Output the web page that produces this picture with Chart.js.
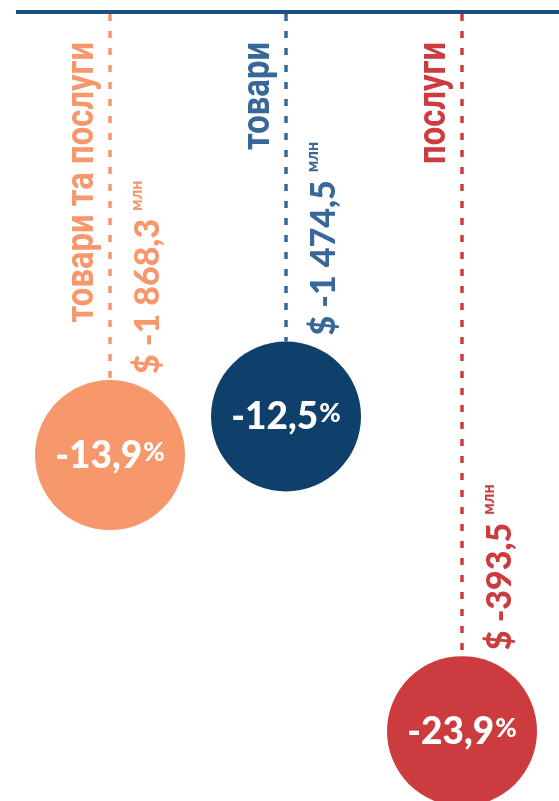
<!DOCTYPE html>
<html>
<head>
<meta charset="utf-8">
<script src="https://cdn.jsdelivr.net/npm/chart.js@4/dist/chart.umd.min.js"></script>
<style>
  html, body { margin: 0; padding: 0; background: #ffffff; }
  #wrap { width: 559px; height: 801px; }
</style>
</head>
<body>
<div id="wrap"><canvas id="c" width="559" height="801"></canvas></div>
<script>
// ---- data ----
const categories = ['товари та послуги', 'товари', 'послуги'];
const changePct = [-13.9, -12.5, -23.9];        // % change
const amountsMln = [-1868.3, -1474.5, -393.5];  // $ млн
const unitLabel = 'млн';

// ---- styles ----
const circleColors = ['#F6976C', '#0F3F6B', '#CC3C3F'];
const textColors = ['#F6976C', '#386898', '#CC3C3F'];
const topLineColor = '#1B4E80';
const RADIUS = 75;

function fmtPct(v) {
  return v.toFixed(1).replace('.', ',');
}
function fmtAmount(v) {
  const sign = v < 0 ? '-' : '';
  const abs = Math.abs(v).toFixed(1).split('.');
  const intPart = abs[0].replace(/\B(?=(\d{3})+(?!\d))/g, ' ');
  return '$ ' + sign + intPart + ',' + abs[1];
}

const CAT_FONT = 'bold 38px Roboto, "DejaVu Sans", sans-serif';
const CAT_CONDENSE = 0.865;
const VAL_FONT = '900 34px Lato, "Open Sans", sans-serif';
const UNIT_FONT = '900 16px Lato, "Open Sans", sans-serif';
const PCT_FONT = '900 37px Lato, "Open Sans", sans-serif';
const PCT_SIGN_FONT = '900 26px Lato, "Open Sans", sans-serif';

const decor = {
  id: 'decor',
  beforeDatasetsDraw(chart) {
    const ctx = chart.ctx;
    const area = chart.chartArea;
    const xs = chart.scales.x, ys = chart.scales.y;
    ctx.save();
    // top line
    ctx.strokeStyle = topLineColor;
    ctx.lineWidth = 4;
    ctx.beginPath();
    ctx.moveTo(16, area.top);
    ctx.lineTo(chart.width, area.top);
    ctx.stroke();

    categories.forEach((cat, i) => {
      const x = xs.getPixelForValue(i);
      const y = ys.getPixelForValue(changePct[i]);
      const circleTop = y - RADIUS;
      // dashed line
      ctx.save();
      ctx.strokeStyle = textColors[i];
      ctx.lineWidth = 3.5;
      ctx.setLineDash([7, 10]);
      ctx.beginPath();
      ctx.moveTo(x, area.top + 2);
      ctx.lineTo(x, circleTop);
      ctx.stroke();
      ctx.restore();

      // category label (rotated)
      ctx.save();
      ctx.fillStyle = textColors[i];
      ctx.translate(x - 17, 42);
      ctx.rotate(-Math.PI / 2);
      ctx.scale(CAT_CONDENSE, 1);
      ctx.font = CAT_FONT;
      ctx.textAlign = 'right';
      ctx.textBaseline = 'alphabetic';
      ctx.fillText(cat, 0, 0);
      ctx.restore();

      // value label (rotated)
      ctx.save();
      ctx.fillStyle = textColors[i];
      ctx.translate(x + 49, circleTop - 6);
      ctx.rotate(-Math.PI / 2);
      ctx.font = VAL_FONT;
      ctx.textAlign = 'left';
      ctx.textBaseline = 'alphabetic';
      const s = fmtAmount(amountsMln[i]);
      ctx.fillText(s, 0, 0);
      const w = ctx.measureText(s).width;
      ctx.font = UNIT_FONT;
      ctx.fillText(unitLabel, w + 8, -17);
      ctx.restore();
    });
    ctx.restore();
  },
  afterDatasetsDraw(chart) {
    const ctx = chart.ctx;
    const xs = chart.scales.x, ys = chart.scales.y;
    ctx.save();
    ctx.fillStyle = '#ffffff';
    ctx.textAlign = 'left';
    ctx.textBaseline = 'alphabetic';
    categories.forEach((cat, i) => {
      const cx = xs.getPixelForValue(i);
      const cy = ys.getPixelForValue(changePct[i]);
      const main = fmtPct(changePct[i]);
      ctx.font = PCT_FONT;
      const w1 = ctx.measureText(main).width;
      ctx.font = PCT_SIGN_FONT;
      const w2 = ctx.measureText('%').width;
      const total = w1 + w2 + 1;
      const sx = cx - total / 2;
      const base = cy + 13;
      ctx.font = PCT_FONT;
      ctx.fillText(main, sx, base);
      ctx.font = PCT_SIGN_FONT;
      ctx.fillText('%', sx + w1 + 1, base - 7);
    });
    ctx.restore();
  }
};

new Chart(document.getElementById('c'), {
  type: 'line',
  data: {
    labels: categories,
    datasets: [{
      data: changePct,
      showLine: false,
      pointRadius: RADIUS,
      pointHoverRadius: RADIUS,
      pointBackgroundColor: circleColors,
      pointBorderWidth: 0,
      pointBorderColor: circleColors,
      clip: false
    }]
  },
  options: {
    responsive: false,
    animation: false,
    events: [],
    layout: { autoPadding: false, padding: { top: 12, left: 110, right: 97, bottom: 0 } },
    plugins: { legend: { display: false }, tooltip: { enabled: false } },
    scales: {
      x: { type: 'category', display: false, offset: false },
      y: { display: false, min: -26.43, max: 2.15 }
    }
  },
  plugins: [decor]
});
</script>
</body>
</html>
